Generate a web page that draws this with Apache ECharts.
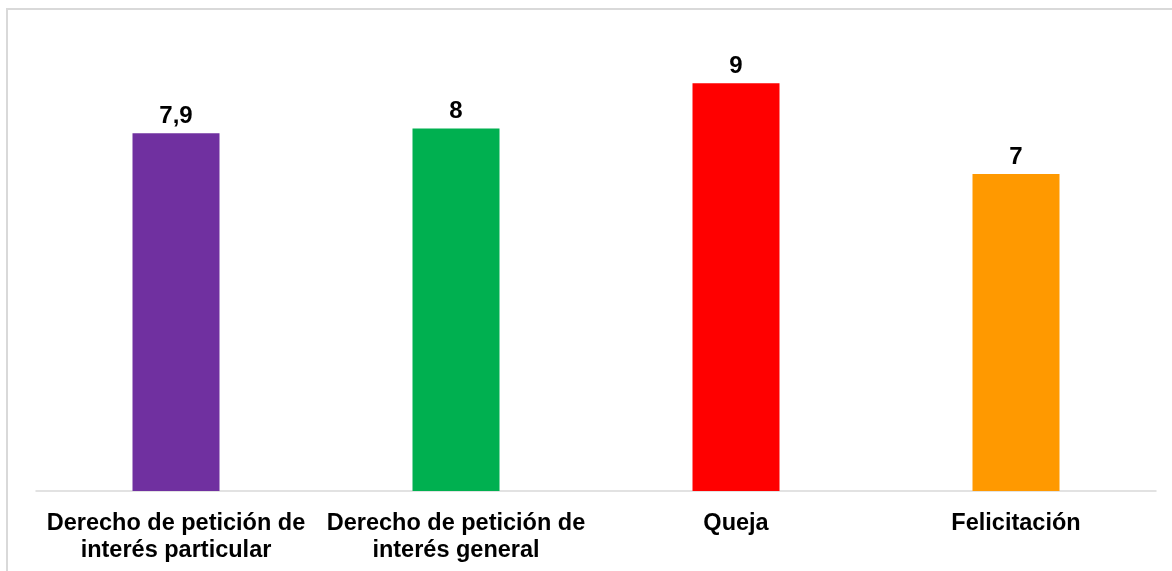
<!DOCTYPE html>
<html>
<head>
<meta charset="utf-8">
<script src="https://cdn.jsdelivr.net/npm/echarts@6/dist/echarts.min.js"></script>
<style>
  html, body { margin: 0; padding: 0; background: #ffffff; }
  #chart { width: 1172px; height: 571px; }
</style>
</head>
<body>
<div id="chart"></div>
<script>
// Request types and their average values
const categories = [
  'Derecho de petición de\ninterés particular',
  'Derecho de petición de\ninterés general',
  'Queja',
  'Felicitación'
];
const values = [7.9, 8, 9, 7];
const barColors = ['#7030A0', '#00B050', '#FF0000', '#FF9900'];

const chart = echarts.init(document.getElementById('chart'), null, { renderer: 'canvas' });

chart.setOption({
  backgroundColor: '#ffffff',
  animation: false,
  graphic: [{
    type: 'rect',
    shape: { x: 7, y: 9, width: 1200, height: 600 },
    style: { fill: 'none', stroke: '#d9d9d9', lineWidth: 2 },
    silent: true,
    z: -1
  }],
  grid: { left: 36, right: 16, top: 38, bottom: 80, containLabel: false },
  xAxis: {
    type: 'category',
    data: categories,
    axisLine: { show: true, lineStyle: { color: '#d9d9d9', width: 1.5 } },
    axisTick: { show: false },
    axisLabel: {
      interval: 0,
      margin: 19,
      color: '#000000',
      fontFamily: 'Liberation Sans, Arial, sans-serif',
      fontWeight: 'bold',
      fontSize: 23.5,
      lineHeight: 27,
      align: 'center'
    }
  },
  yAxis: {
    type: 'value',
    min: 0,
    max: 10,
    show: false,
    splitLine: { show: false }
  },
  series: [{
    type: 'bar',
    barWidth: 87,
    data: values.map((v, i) => ({ value: v, itemStyle: { color: barColors[i] } })),
    label: {
      show: true,
      position: 'top',
      distance: 5,
      color: '#000000',
      fontFamily: 'Liberation Sans, Arial, sans-serif',
      fontWeight: 'bold',
      fontSize: 24,
      formatter: p => String(p.value).replace('.', ',')
    }
  }]
});
</script>
</body>
</html>
